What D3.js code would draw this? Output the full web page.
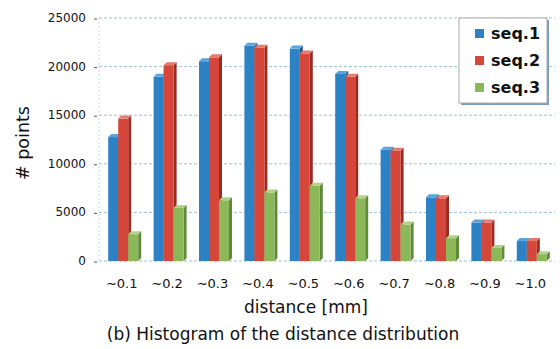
<!DOCTYPE html>
<html>
<head>
<meta charset="utf-8">
<script src="https://cdn.jsdelivr.net/npm/d3@7"></script>
<style>
  body { margin: 0; background: #fff; }
  svg { display: block; font-family: "DejaVu Sans", Verdana, sans-serif; }
</style>
</head>
<body>
<script>
var width = 560;
var height = 349;

// data (front face tops)
var categories = ["∼0.1", "∼0.2", "∼0.3", "∼0.4", "∼0.5", "∼0.6", "∼0.7", "∼0.8", "∼0.9", "∼1.0"];
var seriesNames = ["seq.1", "seq.2", "seq.3"];
var seq1 = [12750, 18950, 20550, 22150, 21850, 19250, 11450, 6550, 3950, 2050];
var seq2 = [14650, 20150, 20950, 21950, 21350, 18950, 11350, 6450, 3950, 2050];
var seq3 = [2750, 5450, 6250, 7050, 7750, 6450, 3750, 2350, 1350, 700];
var yTicks = [0, 5000, 10000, 15000, 20000, 25000];

var allSeries = [seq1, seq2, seq3];
var colors = {
  front: ["#2d81c5", "#d4473a", "#8cb85a"],
  top:   ["#5aa3dc", "#e57a6e", "#b0d485"],
  side:  ["#1b5a8e", "#9c2c22", "#5f8a38"]
};

var plotLeft = 99, plotRight = 553, plotTop = 18, plotBottom = 261;
var depth = 3;

var x = d3.scaleBand().domain(categories).range([plotLeft, plotRight]);
var barW = 10;
var xs = d3.scaleBand().domain(seriesNames).range([0, barW * 3]);
var yScale = d3.scaleLinear().domain([0, 25000]).range([plotBottom, plotTop]);

var svg = d3.select("body").append("svg")
  .attr("width", width)
  .attr("height", height);

// gridlines
svg.selectAll("line.grid")
  .data(yTicks)
  .enter()
  .append("line")
  .attr("x1", plotLeft)
  .attr("x2", plotRight + 2)
  .attr("y1", function(d) { return yScale(d); })
  .attr("y2", function(d) { return yScale(d); })
  .attr("stroke", "#9dc0d8")
  .attr("stroke-width", 1)
  .attr("stroke-dasharray", "3,2");

// left axis line (faint)
svg.append("line")
  .attr("x1", plotLeft).attr("x2", plotLeft)
  .attr("y1", plotTop).attr("y2", plotBottom)
  .attr("stroke", "#c8dbe8")
  .attr("stroke-dasharray", "2,2");

// y tick labels and small tick marks
svg.selectAll("text.ytick")
  .data(yTicks)
  .enter()
  .append("text")
  .attr("x", 86)
  .attr("y", function(d) { return yScale(d) + 4; })
  .attr("text-anchor", "end")
  .attr("font-size", "12px")
  .attr("fill", "#111")
  .text(function(d) { return d; });

svg.selectAll("line.ytickmark")
  .data(yTicks)
  .enter()
  .append("line")
  .attr("x1", 94).attr("x2", 97)
  .attr("y1", function(d) { return yScale(d) + 1; })
  .attr("y2", function(d) { return yScale(d) + 1; })
  .attr("stroke", "#555");

// bars with a small 3D look
var groupOffset = (x.bandwidth() - barW * 3) / 2 + 1.5;
var barData = [];
categories.forEach(function(c, i) {
  seriesNames.forEach(function(s, j) {
    barData.push({ cat: c, s: s, j: j, v: allSeries[j][i] });
  });
});

var bars = svg.selectAll("g.bar")
  .data(barData)
  .enter()
  .append("g");

// side face
bars.append("path")
  .attr("d", function(d) {
    var x0 = x(d.cat) + groupOffset + xs(d.s) + barW;
    var y0 = yScale(d.v);
    return "M" + x0 + "," + y0 + "L" + (x0 + depth) + "," + (y0 - depth) +
      "L" + (x0 + depth) + "," + (plotBottom - depth) + "L" + x0 + "," + plotBottom + "Z";
  })
  .attr("fill", function(d) { return colors.side[d.j]; });

// front face
bars.append("rect")
  .attr("x", function(d) { return x(d.cat) + groupOffset + xs(d.s); })
  .attr("y", function(d) { return yScale(d.v); })
  .attr("width", barW)
  .attr("height", function(d) { return plotBottom - yScale(d.v); })
  .attr("fill", function(d) { return colors.front[d.j]; });

// top face
bars.append("path")
  .attr("d", function(d) {
    var x0 = x(d.cat) + groupOffset + xs(d.s);
    var y0 = yScale(d.v);
    return "M" + x0 + "," + y0 + "L" + (x0 + depth) + "," + (y0 - depth) +
      "L" + (x0 + barW + depth) + "," + (y0 - depth) + "L" + (x0 + barW) + "," + y0 + "Z";
  })
  .attr("fill", function(d) { return colors.top[d.j]; });

// x tick labels
svg.selectAll("text.xtick")
  .data(categories)
  .enter()
  .append("text")
  .attr("x", function(d) { return x(d) + x.bandwidth() / 2; })
  .attr("y", 288)
  .attr("text-anchor", "middle")
  .attr("font-size", "13px")
  .attr("fill", "#111")
  .text(function(d) { return d; });

// axis titles
svg.append("text")
  .attr("x", 306)
  .attr("y", 313)
  .attr("text-anchor", "middle")
  .attr("font-size", "17px")
  .attr("fill", "#111")
  .text("distance [mm]");

svg.append("text")
  .attr("transform", "translate(29,143) rotate(-90)")
  .attr("text-anchor", "middle")
  .attr("font-size", "17.5px")
  .attr("fill", "#111")
  .text("# points");

svg.append("text")
  .attr("x", 283)
  .attr("y", 340)
  .attr("text-anchor", "middle")
  .attr("font-size", "17px")
  .attr("fill", "#111")
  .text("(b) Histogram of the distance distribution");

// legend
var legend = svg.append("g").attr("transform", "translate(459,18)");
legend.append("rect")
  .attr("x", 2).attr("y", 2)
  .attr("width", 88).attr("height", 85)
  .attr("fill", "#7a9cb8");
legend.append("rect")
  .attr("width", 88).attr("height", 85)
  .attr("fill", "#fff")
  .attr("stroke", "#aaa");

var items = legend.selectAll("g.item")
  .data(seriesNames)
  .enter()
  .append("g")
  .attr("transform", function(d, i) { return "translate(0," + (15 + i * 27) + ")"; });

items.append("rect")
  .attr("x", 16).attr("y", -4)
  .attr("width", 9).attr("height", 9)
  .attr("fill", function(d, i) { return colors.front[i]; });

items.append("text")
  .attr("x", 32)
  .attr("y", 6)
  .attr("font-size", "16px")
  .attr("font-weight", "bold")
  .attr("fill", "#111")
  .text(function(d) { return d; });
</script>
</body>
</html>
